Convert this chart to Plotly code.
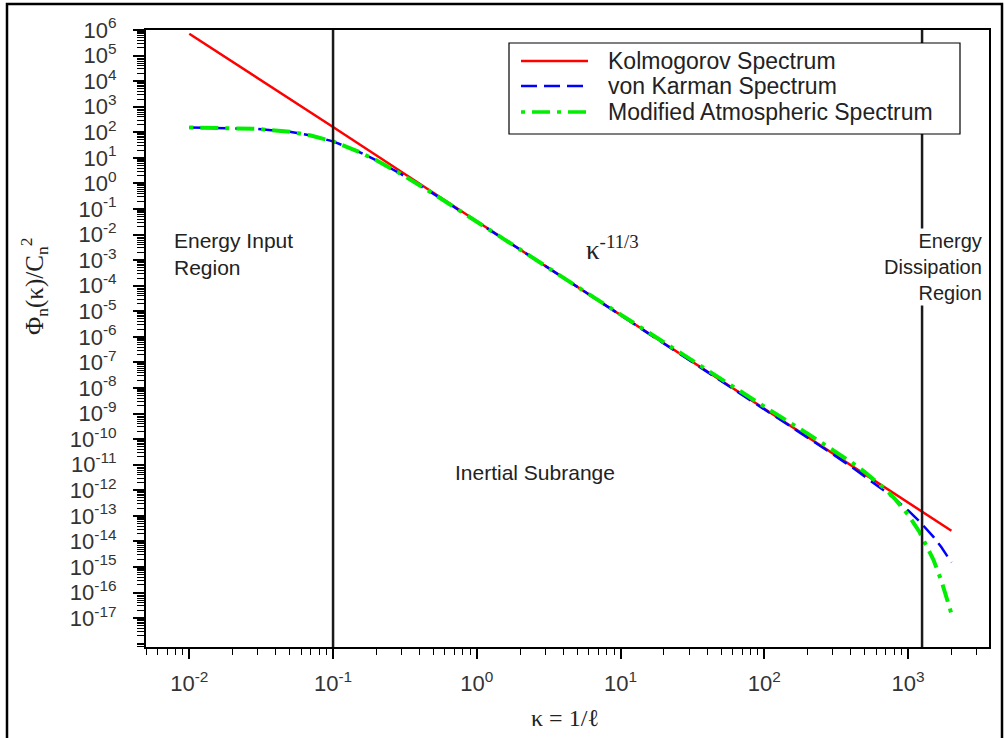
import plotly.graph_objects as go

# ---------------- data ----------------
kappa_kolmogorov = [0.01, 0.1, 1, 10, 100, 1000, 2000]
phi_kolmogorov = [7.1e5, 160, 0.033, 7.1e-6, 1.53e-9, 3.3e-13, 2.6e-14]

kappa_curves = [0.01, 0.02, 0.03, 0.05, 0.07, 0.1, 0.15, 0.2, 0.3, 0.5, 1, 2, 5,
                10, 20, 50, 100, 200, 300, 400, 500, 700, 800, 1000, 1200, 1500,
                1700, 2000]
phi_vonkarman = [155, 148, 135, 104, 75, 44, 17.6, 8.0, 2.25, 0.39, 0.0324,
                 2.59e-3, 9.0e-5, 7.1e-6, 5.6e-7, 1.95e-8, 1.51e-9, 1.17e-10,
                 2.55e-11, 8.5e-12, 3.5e-12, 8.6e-13, 4.74e-13, 1.62e-13,
                 6.05e-14, 1.5e-14, 6.0e-15, 1.5e-15]
phi_modified = [155, 148, 135, 104, 75, 44, 17.6, 8.0, 2.25, 0.39, 0.0325,
                2.6e-3, 9.1e-5, 7.3e-6, 5.9e-7, 2.18e-8, 1.86e-9, 1.64e-10,
                3.8e-11, 1.28e-11, 5.15e-12, 1.05e-12, 4.94e-13, 1.1e-13,
                2.33e-14, 1.89e-15, 3.0e-16, 1.5e-17]

region_bounds = [0.1, 1250]

series_names = ["Kolmogorov Spectrum", "von Karman Spectrum",
                "Modified Atmospheric Spectrum"]

x_tickvals = [1e-2, 1e-1, 1e0, 1e1, 1e2, 1e3]
x_ticktext = ["10<sup>-2</sup>", "10<sup>-1</sup>", "10<sup>0</sup>",
              "10<sup>1</sup>", "10<sup>2</sup>", "10<sup>3</sup>"]
y_exponents = list(range(6, -18, -1))
y_tickvals = [10.0 ** e for e in y_exponents]
y_ticktext = ["10<sup>%d</sup>" % e for e in y_exponents]

# ---------------- layout geometry ----------------
W, H = 1005, 738
L, R, T, B = 146, 989, 30, 647


def px_x(px):
    return (px - L) / (R - L)


def px_y(py):
    return 1 - (py - T) / (B - T)


SANS = "Liberation Sans, Arial, sans-serif"
SERIF = "Liberation Serif, Times New Roman, serif"
TXT = "#222222"

colors = ["#ff0000", "#0000ff", "#00ee00"]
widths = [2.5, 2.5, 4]
dashes = ["solid", "16px,7px", "4px,7px,18px,7px"]

fig = go.Figure()
fig.add_trace(go.Scatter(x=kappa_kolmogorov, y=phi_kolmogorov, mode="lines",
                         name=series_names[0], showlegend=False,
                         line=dict(color=colors[0], width=widths[0], dash=dashes[0])))
fig.add_trace(go.Scatter(x=kappa_curves, y=phi_vonkarman, mode="lines",
                         name=series_names[1], showlegend=False,
                         line=dict(color=colors[1], width=widths[1], dash=dashes[1])))
fig.add_trace(go.Scatter(x=kappa_curves, y=phi_modified, mode="lines",
                         name=series_names[2], showlegend=False,
                         line=dict(color=colors[2], width=widths[2], dash=dashes[2])))
for xb in region_bounds:
    fig.add_trace(go.Scatter(x=[xb, xb], y=[1e-20, 1e8], mode="lines",
                             showlegend=False, hoverinfo="skip",
                             line=dict(color="#1a1a1a", width=2.5)))

fig.update_layout(
    width=W, height=H,
    margin=dict(l=L, r=W - R, t=T, b=H - B, pad=0),
    paper_bgcolor="white", plot_bgcolor="white",
    showlegend=False,
    font=dict(family=SANS, color=TXT),
)
fig.update_xaxes(
    type="log", range=[-2.301, 3.5625],
    showgrid=False, zeroline=False,
    showline=True, linecolor="black", linewidth=2, mirror=True,
    ticks="outside", ticklen=10, tickwidth=1.5, tickcolor="black",
    tickvals=x_tickvals, ticktext=x_ticktext,
    tickfont=dict(family=SANS, size=22, color="#333333"),
    ticklabelstandoff=6,
    minor=dict(ticks="outside", ticklen=6, tickwidth=1.2, tickcolor="black",
               dtick="D1", showgrid=False),
)
fig.update_yaxes(
    type="log", range=[-18.13, 6.0],
    showgrid=False, zeroline=False,
    showline=True, linecolor="black", linewidth=2, mirror=True,
    ticks="outside", ticklen=11, tickwidth=1.5, tickcolor="black",
    tickvals=y_tickvals, ticktext=y_ticktext,
    tickfont=dict(family=SANS, size=22, color="#333333"),
    ticklabelstandoff=12,
    minor=dict(ticks="outside", ticklen=7, tickwidth=1.2, tickcolor="black",
               dtick="D1", showgrid=False),
)

shapes = []
# outer picture border
shapes.append(dict(type="rect", xref="paper", yref="paper",
                   x0=px_x(7), x1=px_x(1002), y0=px_y(760), y1=px_y(4),
                   line=dict(color="black", width=2.5), fillcolor="rgba(0,0,0,0)",
                   layer="above"))
# legend box
shapes.append(dict(type="rect", xref="paper", yref="paper",
                   x0=px_x(509), x1=px_x(960), y0=px_y(134), y1=px_y(43),
                   line=dict(color="black", width=1.2), fillcolor="white",
                   layer="above"))
legend_rows = [61, 86, 112]
annotations = []
for i, ry in enumerate(legend_rows):
    shapes.append(dict(type="line", xref="paper", yref="paper",
                       x0=px_x(521), x1=px_x(588), y0=px_y(ry), y1=px_y(ry),
                       line=dict(color=colors[i], width=widths[i] if i < 2 else 3.5,
                                 dash=dashes[i]),
                       layer="above"))
    annotations.append(dict(xref="paper", yref="paper", x=px_x(606), y=px_y(ry),
                            xanchor="left", yanchor="middle", showarrow=False,
                            text=series_names[i],
                            font=dict(family=SANS, size=23, color=TXT)))

annotations += [
    dict(xref="paper", yref="paper", x=px_x(172), y=px_y(254),
         xanchor="left", yanchor="middle", align="left", showarrow=False,
         text="Energy Input<br>Region", font=dict(family=SANS, size=21, color=TXT)),
    dict(xref="paper", yref="paper", x=px_x(984), y=px_y(267),
         xanchor="right", yanchor="middle", align="right", showarrow=False,
         bgcolor="white",
         text="Energy<br>Dissipation<br>Region", font=dict(family=SANS, size=20, color=TXT)),
    dict(xref="paper", yref="paper", x=px_x(535), y=px_y(472),
         xanchor="center", yanchor="middle", showarrow=False,
         text="Inertial Subrange", font=dict(family=SANS, size=21, color=TXT)),
    dict(xref="paper", yref="paper", x=px_x(584), y=px_y(248),
         xanchor="left", yanchor="middle", showarrow=False,
         text="κ<sup>-11/3</sup>", font=dict(family=SERIF, size=27, color=TXT)),
    dict(xref="paper", yref="paper", x=px_x(34), y=px_y(287),
         xanchor="center", yanchor="middle", showarrow=False, textangle=-90,
         text="Φ<sub>n</sub>(κ)/C<sub>n</sub><sup>2</sup>",
         font=dict(family=SERIF, size=25, color=TXT)),
    dict(xref="paper", yref="paper", x=px_x(565), y=px_y(718),
         xanchor="center", yanchor="middle", showarrow=False,
         text="κ = 1/ℓ", font=dict(family=SERIF, size=24, color=TXT)),
]

fig.update_layout(shapes=shapes, annotations=annotations)
fig.write_html("out.html")
